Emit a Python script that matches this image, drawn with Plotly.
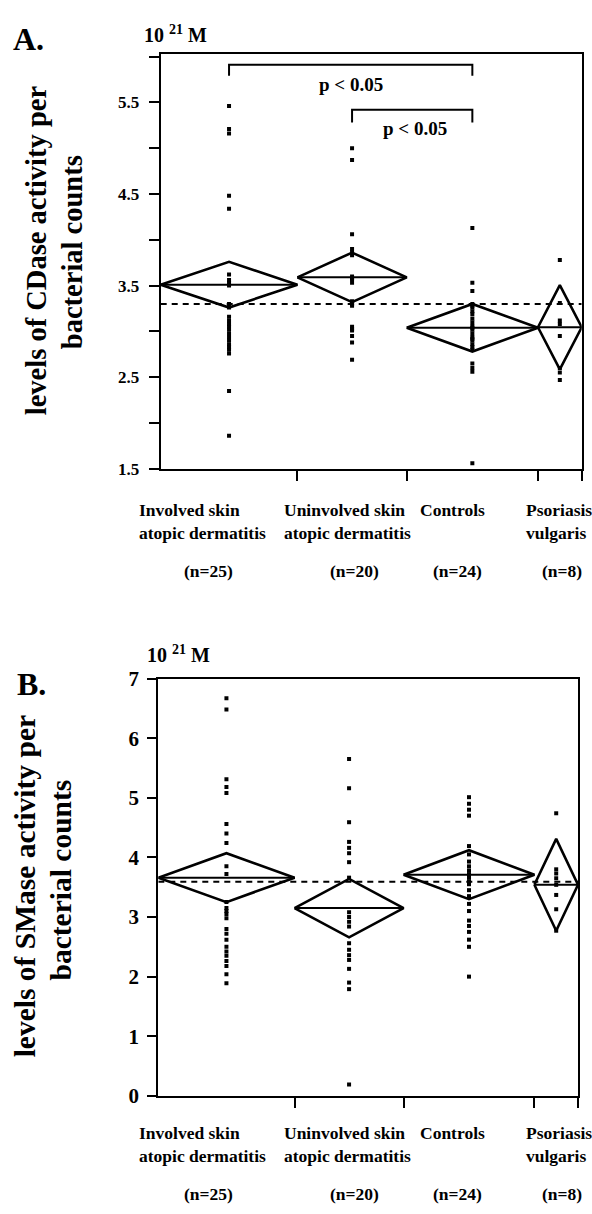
import plotly.graph_objects as go

# ---------------- data ----------------
group_labels = ["Involved skin<br>atopic dermatitis", "Uninvolved skin<br>atopic dermatitis",
                "Controls", "Psoriasis<br>vulgaris"]
n_labels = ["(n=25)", "(n=20)", "(n=24)", "(n=8)"]
group_n = [25, 20, 24, 8]

# Panel A: CDase (10^21 M)
cdase_involved = [5.46, 5.21, 5.16, 4.48, 4.34, 3.62, 3.56, 3.53, 3.50, 3.30, 3.26, 3.16, 3.12,
                  3.08, 3.05, 3.02, 2.98, 2.94, 2.90, 2.86, 2.83, 2.80, 2.76, 2.35, 1.86]
cdase_uninvolved = [5.00, 4.87, 4.06, 3.90, 3.86, 3.83, 3.60, 3.58, 3.57, 3.53, 3.33, 3.31,
                    3.30, 3.28, 3.05, 3.03, 3.01, 2.95, 2.88, 2.69]
cdase_controls = [4.13, 3.53, 3.44, 3.30, 3.28, 3.26, 3.22, 3.19, 3.14, 3.10, 3.06, 3.04,
                  3.02, 2.98, 2.94, 2.92, 2.90, 2.86, 2.83, 2.80, 2.65, 2.60, 2.56, 1.56]
cdase_psoriasis = [3.78, 3.31, 3.12, 3.08, 2.95, 2.60, 2.55, 2.47]
cdase_means = [3.51, 3.59, 3.04, 3.045]
cdase_ci = [0.25, 0.27, 0.26, 0.46]
cdase_grand_mean = 3.30

# Panel B: SMase (10^21 M)
smase_involved = [6.67, 6.48, 5.31, 5.18, 5.08, 4.56, 4.40, 4.24, 3.85, 3.72, 3.25, 3.15, 3.10,
                  3.05, 2.98, 2.80, 2.72, 2.62, 2.50, 2.42, 2.35, 2.26, 2.18, 2.04, 1.89]
smase_uninvolved = [5.65, 5.16, 4.59, 4.26, 4.16, 4.07, 3.92, 3.66, 3.08, 3.00, 2.92, 2.84,
                    2.56, 2.45, 2.36, 2.28, 2.13, 1.90, 1.79, 0.19]
smase_controls = [5.01, 4.90, 4.80, 4.70, 4.19, 4.05, 3.93, 3.85, 3.78, 3.72, 3.70, 3.66,
                  3.60, 3.55, 3.45, 3.35, 3.22, 3.10, 2.94, 2.85, 2.75, 2.62, 2.50, 2.00]
smase_psoriasis = [4.74, 3.80, 3.73, 3.65, 3.54, 3.37, 3.13, 2.77]
smase_means = [3.66, 3.15, 3.71, 3.54]
smase_ci = [0.41, 0.49, 0.41, 0.77]
smase_grand_mean = 3.59

# ---------------- layout helpers ----------------
W, H = 592, 1214
FONT = "Liberation Serif, Times New Roman, serif"


def px(x):
    return x / W


def py(y):
    return 1 - y / H


def bfont(size):
    return dict(size=size, family=FONT, color="black", weight="bold")


edges = [0]
for n in group_n:
    edges.append(edges[-1] + n)
centers = [(edges[i] + edges[i + 1]) / 2 for i in range(len(group_n))]
total = edges[-1]

fig = go.Figure()


def add_panel(xa, ya, groups, means, ci, grand):
    # grand mean dashed line
    fig.add_trace(go.Scatter(x=[0, total], y=[grand, grand], mode="lines",
                             line=dict(color="black", width=2, dash="6px,5px"),
                             xaxis=xa, yaxis=ya, showlegend=False, hoverinfo="skip"))
    for i, vals in enumerate(groups):
        l, r, c = edges[i], edges[i + 1], centers[i]
        m, h = means[i], ci[i]
        # mean diamond
        fig.add_trace(go.Scatter(x=[l, c, r, c, l], y=[m, m + h, m, m - h, m], mode="lines",
                                 line=dict(color="black", width=2.6),
                                 xaxis=xa, yaxis=ya, showlegend=False, hoverinfo="skip"))
        # mean line
        fig.add_trace(go.Scatter(x=[l, r], y=[m, m], mode="lines",
                                 line=dict(color="black", width=2),
                                 xaxis=xa, yaxis=ya, showlegend=False, hoverinfo="skip"))
        # points
        fig.add_trace(go.Scatter(x=[c] * len(vals), y=vals, mode="markers",
                                 marker=dict(symbol="square", size=4, color="black"),
                                 xaxis=xa, yaxis=ya, showlegend=False))


add_panel("x", "y", [cdase_involved, cdase_uninvolved, cdase_controls, cdase_psoriasis],
          cdase_means, cdase_ci, cdase_grand_mean)
add_panel("x2", "y2", [smase_involved, smase_uninvolved, smase_controls, smase_psoriasis],
          smase_means, smase_ci, smase_grand_mean)

# significance brackets (panel A)
for (a, b, top, leg) in [(0, 2, 5.91, 5.79), (1, 2, 5.42, 5.28)]:
    fig.add_trace(go.Scatter(x=[centers[a], centers[a], centers[b], centers[b]],
                             y=[leg, top, top, leg], mode="lines",
                             line=dict(color="black", width=2),
                             xaxis="x", yaxis="y", showlegend=False, hoverinfo="skip"))

annotations = []
annotations.append(dict(x=(centers[0] + centers[2]) / 2, y=5.69, xref="x", yref="y",
                        text="p < 0.05", showarrow=False, font=bfont(19)))
annotations.append(dict(x=(centers[1] + centers[2]) / 2 + 0.5, y=5.21, xref="x", yref="y",
                        text="p < 0.05", showarrow=False, font=bfont(19)))

# panel letters and units
for txt, x, y in [("A.", 28, 28), ("B.", 31, 686)]:
    annotations.append(dict(x=px(x), y=py(y), xref="paper", yref="paper", text=txt,
                            showarrow=False, xanchor="center", yanchor="middle",
                            font=bfont(32)))
for x, y in [(142, 22), (145, 655)]:
    annotations.append(dict(x=px(x), y=py(y), xref="paper", yref="paper",
                            text="10 <sup>21</sup> M", showarrow=False,
                            xanchor="left", yanchor="middle", font=bfont(20)))

# y titles (two rotated lines each)
for txt, x, y, size in [("levels of CDase activity per", 36, 243, 28.5),
                        ("bacterial counts", 72, 245, 28.5),
                        ("levels of SMase activity per", 25, 892, 29.5),
                        ("bacterial counts", 61, 886, 29.5)]:
    annotations.append(dict(x=px(x), y=py(y), xref="paper", yref="paper", text=txt,
                            textangle=-90, showarrow=False, xanchor="center",
                            yanchor="middle", font=bfont(size)))

# category labels
label_x = [137, 282, 418, 524]
n_x = [208, 354, 457, 562]
for top_y, n_y in [(496, 570), (1131, 1206)]:
    for i in range(4):
        annotations.append(dict(x=px(label_x[i]), y=py(top_y), xref="paper", yref="paper",
                                text=group_labels[i], showarrow=False, align="left",
                                xanchor="left", yanchor="top", font=bfont(17.5)))
        annotations.append(dict(x=px(n_x[i]), y=py(n_y), xref="paper", yref="paper",
                                text=n_labels[i], showarrow=False,
                                xanchor="center", yanchor="middle", font=bfont(17.5)))

xaxis_common = dict(range=[0, total], showgrid=False, zeroline=False, showline=True,
                    linecolor="black", linewidth=2, mirror=True, ticks="outside",
                    ticklen=10, tickwidth=2, tickcolor="black", tickvals=edges[1:],
                    showticklabels=False)

fig.update_layout(
    width=W, height=H, margin=dict(l=0, r=0, t=0, b=0),
    paper_bgcolor="white", plot_bgcolor="white", showlegend=False,
    xaxis=dict(domain=[px(160.7), px(581.7)], anchor="y", **xaxis_common),
    xaxis2=dict(domain=[px(158.3), px(578.0)], anchor="y2", **xaxis_common),
    yaxis=dict(domain=[py(466), py(42.7)], anchor="x", range=[1.5, 6.03],
               tick0=1.5, dtick=1, showgrid=False, zeroline=False, showline=True,
               linecolor="black", linewidth=2, mirror=True, ticks="outside",
               ticklen=10, tickwidth=2, tickcolor="black", tickformat=".1f",
               ticklabelstandoff=6, tickfont=bfont(17),
               minor=dict(dtick=0.5, tick0=1.5, ticks="outside", ticklen=10, tickwidth=2,
                          tickcolor="black", showgrid=False)),
    yaxis2=dict(domain=[py(1105.7), py(680)], anchor="x2", range=[0, 7],
                tick0=0, dtick=1, showgrid=False, zeroline=False, showline=True,
                linecolor="black", linewidth=2, mirror=True, ticks="outside",
                ticklen=9, tickwidth=2, tickcolor="black", ticklabelstandoff=4,
                tickfont=bfont(21)),
    annotations=annotations,
)

fig.write_html("out.html", config={"displayModeBar": False},
               post_script="document.body.style.margin='0';document.body.style.overflow='hidden';")
